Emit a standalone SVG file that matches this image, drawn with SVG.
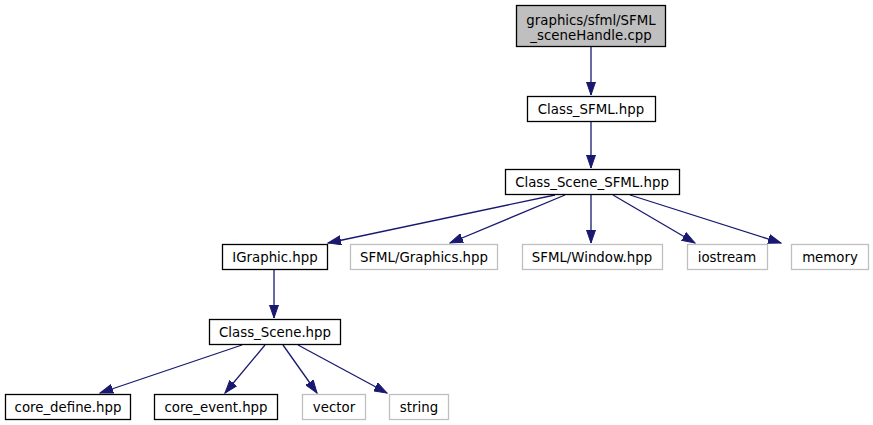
<svg xmlns="http://www.w3.org/2000/svg" width="873" height="425" viewBox="0 0 873 425">
<defs>
<marker id="ah" markerWidth="14" markerHeight="10" refX="13" refY="5" orient="auto" markerUnits="userSpaceOnUse">
<path d="M0,0.5 L13,5 L0,9.5 Z" fill="#191970" stroke="#191970"/>
</marker>
</defs>
<style>
.n rect{fill:#fff;stroke:#000;stroke-width:1.3}
.g rect{fill:#fff;stroke:#bfbfbf;stroke-width:1.3}
.r rect{fill:#bfbfbf;stroke:#000;stroke-width:1.3}
text{font-family:"DejaVu Sans",sans-serif;font-size:13.33px;text-anchor:middle;fill:#000}
.e path{fill:none;stroke:#191970;stroke-width:1.3;marker-end:url(#ah)}
</style>
<rect width="873" height="425" fill="#fff"/>
<g class="e" id="edges">
<path d="M591,46 L591,95"/>
<path d="M591,121 L591,168"/>
<path d="M555,195 L328,243"/>
<path d="M565,195 L450,243"/>
<path d="M591,195 L591,243"/>
<path d="M613,195 L695,243"/>
<path d="M630,195 L781,243"/>
<path d="M274,270 L274,318"/>
<path d="M242,345 L100,393"/>
<path d="M265,345 L225,393"/>
<path d="M283,345 L317,393"/>
<path d="M298,345 L387,393"/>
</g>
<g id="n_root" class="r"><rect x="516.5" y="5.5" width="149" height="41"/><text x="591" y="25">graphics/sfml/SFML</text><text x="591" y="40">_sceneHandle.cpp</text></g>
<g id="n_class_sfml" class="n"><rect x="527.5" y="96.5" width="128" height="25"/><text x="591" y="113.5">Class_SFML.hpp</text></g>
<g id="n_class_scene_sfml" class="n"><rect x="505.5" y="169.5" width="174" height="25"/><text x="592" y="186.5">Class_Scene_SFML.hpp</text></g>
<g id="n_igraphic" class="n"><rect x="222.5" y="244.5" width="105" height="25"/><text x="275" y="261.5">IGraphic.hpp</text></g>
<g id="n_sfml_graphics" class="g"><rect x="350.5" y="244.5" width="147" height="25"/><text x="424" y="261.5">SFML/Graphics.hpp</text></g>
<g id="n_sfml_window" class="g"><rect x="522.5" y="244.5" width="140" height="25"/><text x="592" y="261.5">SFML/Window.hpp</text></g>
<g id="n_iostream" class="g"><rect x="687.5" y="244.5" width="80" height="25"/><text x="727" y="261.5">iostream</text></g>
<g id="n_memory" class="g"><rect x="791.5" y="244.5" width="77" height="25"/><text x="830" y="261.5">memory</text></g>
<g id="n_class_scene" class="n"><rect x="209.5" y="319.5" width="131" height="25"/><text x="275" y="336.5">Class_Scene.hpp</text></g>
<g id="n_core_define" class="n"><rect x="5.5" y="394.5" width="125" height="25"/><text x="68" y="411.5">core_define.hpp</text></g>
<g id="n_core_event" class="n"><rect x="154.5" y="394.5" width="123" height="25"/><text x="216" y="411.5">core_event.hpp</text></g>
<g id="n_vector" class="g"><rect x="302.5" y="394.5" width="63" height="25"/><text x="334" y="411.5">vector</text></g>
<g id="n_string" class="g"><rect x="389.5" y="394.5" width="59" height="25"/><text x="419" y="411.5">string</text></g>
</svg>
